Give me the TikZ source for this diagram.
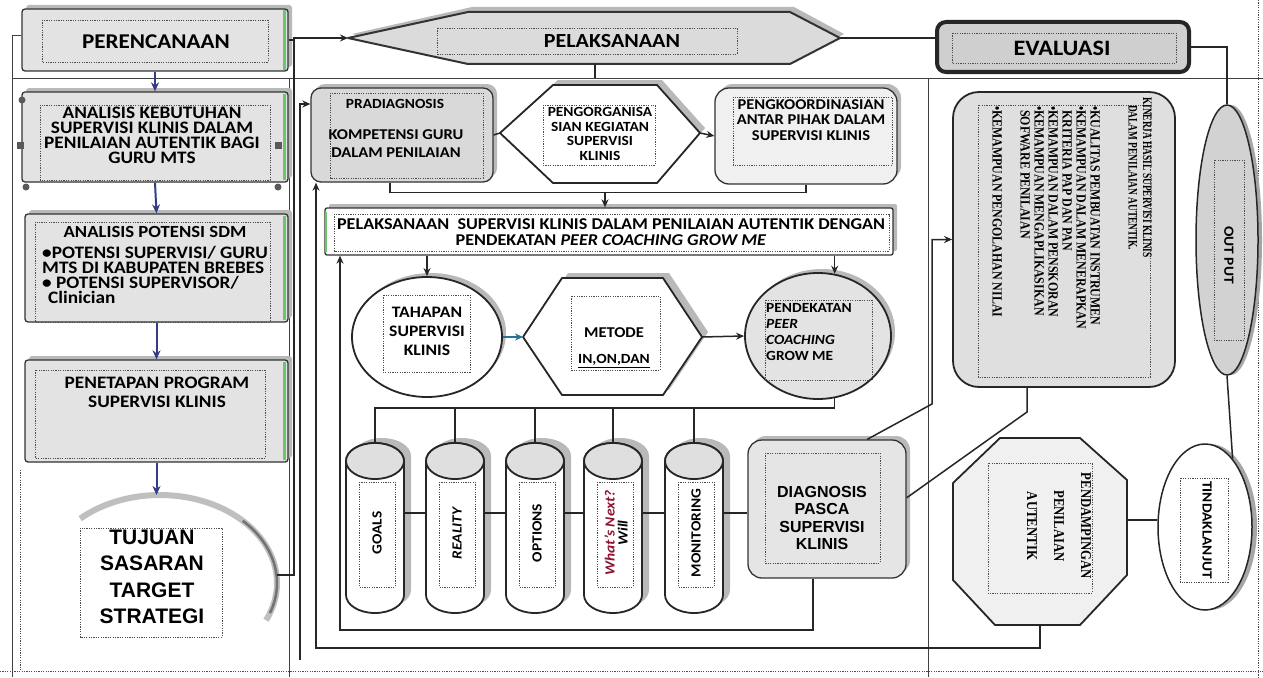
\documentclass[tikz,border=0pt]{standalone}
\usepackage{fontspec}
\setmainfont{Carlito}[FakeStretch=1.1]
\newfontfamily\arialf{Liberation Sans}
\newfontfamily\serc{Liberation Serif}[FakeStretch=0.85]
\newfontfamily\sercc{Liberation Serif}[FakeStretch=0.72]
\usetikzlibrary{shapes.geometric,shadows,arrows.meta,calc}
\definecolor{navy}{rgb}{0.2,0.24,0.52}
\definecolor{gbar}{rgb}{0.42,0.78,0.42}
\definecolor{wred}{rgb}{0.55,0.08,0.2}
\definecolor{tealb}{rgb}{0.15,0.45,0.6}
\newcommand\fsz[2]{\fontsize{#1}{#2}\selectfont}
\begin{document}
\begin{tikzpicture}[x=1pt,y=-1pt,
  box/.style={draw=black!80, line width=1.3pt, fill=gray!22, rounded corners=3pt, inner sep=0pt},
  sh/.style={drop shadow={shadow xshift=4pt, shadow yshift=4pt, fill=gray!55, opacity=1}},
  dotr/.style={draw=black!70, dash pattern=on 1.2pt off 1.2pt, line width=0.8pt},
  conn/.style={draw=black!85, line width=1.5pt},
  arr/.style={conn, -{Stealth[length=8pt,width=7pt]}},
  darr/.style={draw=navy, line width=2pt, -{Stealth[length=9pt,width=8pt]}},
  lbl/.style={align=center, inner sep=0pt},
  divl/.style={draw=black!75, line width=0.9pt},
  hexs/.style={draw=black!85, line width=1.8pt, fill=white, line join=round},
  cylanchor/.style={minimum width=58pt, minimum height=140pt, inner sep=0pt},
  cyltext/.style={rotate=90, align=center, inner sep=0pt, font=\bfseries\fsz{14}{13}},
  hand/.style={fill=black!65},
]
\useasboundingbox (0,0) rectangle (1263,677);
\fill[white] (0,0) rectangle (1263,677);

% dividers
\draw[divl] (12,35) -- (12,677);
\draw[divl] (12,78) -- (1263,78);
\draw[divl] (289,78) -- (289,677);
\draw[divl] (928,78) -- (928,677);
\draw[dotr] (1258,0) -- (1258,677);
\draw[dotr] (0,671) -- (1263,671);
\draw[dotr] (20,470) -- (20,671);

% ---------- left column ----------
\node[box, sh, minimum width=266pt, minimum height=62pt] (per) at (155,40) {};
\draw[dotr] (42,20) rectangle (268,62);
\node[lbl, font=\bfseries\fsz{21}{24}] (perT) at (156,42) {PERENCANAAN};
\draw[divl] (12,35) -- (per.west |- 0,35);

\node[box, sh, minimum width=266pt, minimum height=90pt] (ak) at (155,137) {};
\draw[dotr] (40,105) rectangle (270,180);
\node[lbl, font=\bfseries\fsz{17.5}{15}] (akT) at (152,135) {ANALISIS KEBUTUHAN\\SUPERVISI KLINIS DALAM\\PENILAIAN AUTENTIK BAGI\\GURU MTS};

\node[box, sh, minimum width=263pt, minimum height=108pt] (ap) at (156.5,268) {};
\draw[dotr] (35,222) rectangle (270,322);
\node[lbl, font=\bfseries\fsz{17}{15}] (apT) at (155,232) {ANALISIS POTENSI SDM};
\node[lbl, align=left, anchor=north west, font=\bfseries\fsz{17.5}{15}] (apB) at (42,246) {•POTENSI SUPERVISI/ GURU\\MTS DI KABUPATEN BREBES\\• POTENSI SUPERVISOR/\\\hspace*{6pt}Clinician};

\node[box, sh, minimum width=263pt, minimum height=102pt] (pp) at (156.5,411) {};
\draw[dotr] (35,370) rectangle (265,458);
\node[lbl, font=\bfseries\fsz{17.5}{19}] (ppT) at (157,392) {PENETAPAN PROGRAM\\SUPERVISI KLINIS};

% tujuan arc
\draw[gray!50, line width=6pt] (160,583) ++(-133:117 and 88) arc (-133:25:117 and 88);
\draw[black!55, line width=2.5pt] (160,583) ++(-45:117 and 88) arc (-45:20:117 and 88);
\draw[dotr] (80,528) rectangle (222,637);
\node[lbl, font=\arialf\bfseries\fsz{21}{26.5}] (tuj) at (152,577) {TUJUAN\\SASARAN\\TARGET\\STRATEGI};
\coordinate (tujE) at (277,575);
\coordinate (tujN) at (160,495);

% green bars and handles
\foreach \a/\b in {10/70, 94/180, 216/320, 362/460} \draw[gbar, line width=3pt] (284,\a) -- (284,\b);
\fill[hand] (22,100) circle (3.5pt);
\fill[hand] (26,187) circle (3.5pt);
\fill[hand] (278,187) circle (3.5pt);
\fill[hand] (17,142) rectangle (24,149);
\fill[hand] (275,142) rectangle (282,149);

% left arrows
\draw[darr] (per.south) -- (ak.north);
\draw[darr] (ak.south) -- (ap.north);
\draw[darr] (ap.south) -- (pp.north);
\draw[darr] (pp.south) -- (pp.south |- tujN);

% ---------- PELAKSANAAN ----------
\coordinate (pelW) at (348,38);
\coordinate (pelE) at (840,38);
\fill[gray!55] ($(pelW)+(4,-4)$) -- (472,7) -- (794,7) -- ($(pelE)+(4,-4)$) -- (794,60) -- (472,60) -- cycle;
\draw[line width=2pt, draw=black!80, fill=gray!28, line join=round] (pelW) -- (468,12) -- (790,12) -- (pelE) -- (790,64) -- (468,64) -- cycle;
\draw[dotr] (437,28) rectangle (737,54);
\node[lbl, font=\bfseries\fsz{20}{22}] (pel) at (612,41) {PELAKSANAAN};
\coordinate (pelS) at (595,64);
\draw[conn] (pelS) -- (595,78);
\draw[arr] (tujE) -| ($(pelW)+(-54,0)$) -- (pelW);
\draw[conn] (per.east) -- ($(pelW)+(-54,2)$);

% ---------- EVALUASI ----------
\node[draw=black!85, line width=4pt, fill=gray!38, rounded corners=9pt, minimum width=252pt, minimum height=50pt, inner sep=0pt] (eva) at (1063,47) {};
\draw[dotr] (952,33) rectangle (1176,63);
\node[lbl, font=\bfseries\fsz{22}{24}] (evaT) at (1062,48) {EVALUASI};
\draw[conn] (pelE) -- (pelE -| eva.west);

% ---------- middle row ----------
\node[box, sh, rounded corners=10pt, fill=gray!30, minimum width=182pt, minimum height=94pt] (pra) at (402,135) {};
\draw[dotr] (330,93) rectangle (483,178);
\node[lbl, font=\bfseries\fsz{14}{16}] (praT) at (395,104) {PRADIAGNOSIS};
\node[lbl, font=\bfseries\fsz{15}{18}] (praK) at (396,144) {KOMPETENSI GURU\\DALAM PENILAIAN};

\coordinate (orgW) at (500,133);
\coordinate (orgE) at (700,133);
\fill[gray!55] ($(orgW)+(5,-5)$) -- (558,80) -- (662,80) -- ($(orgE)+(5,-5)$) -- (662,178) -- (558,178) -- cycle;
\draw[hexs] (orgW) -- (553,85) -- (657,85) -- (orgE) -- (657,183) -- (553,183) -- cycle;
\draw[dotr] (543,105) rectangle (655,165);
\node[lbl, font=\bfseries\fsz{14}{14.5}] (org) at (600,134) {PENGORGANISA\\SIAN KEGIATAN\\SUPERVISI\\KLINIS};

\node[box, sh, rounded corners=14pt, fill=gray!12, minimum width=182pt, minimum height=96pt] (koo) at (806,136) {};
\draw[dotr] (733,97) rectangle (892,165);
\node[lbl, font=\bfseries\fsz{15}{15.5}] (kooT) at (811,120) {PENGKOORDINASIAN\\ANTAR PIHAK DALAM\\SUPERVISI KLINIS};

\draw[conn] (pra.east) -- (orgW);
\draw[arr] (orgE) -- (koo.west);
\draw[conn] ($(pra.south)+(-12,0)$) -- ++(0,10) -| (koo.south);

% ---------- PSK ----------
\node[box, sh, fill=white, rounded corners=2pt, minimum width=568pt, minimum height=47pt] (psk) at (609,231.5) {};
\draw[dotr] (334,214) rectangle (889,251);
\draw[gbar, line width=2.5pt] (326,212) -- (326,252);
\node[lbl, font=\bfseries\fsz{16.5}{16}] (pskT) at (611,232) {PELAKSANAAN\ \ SUPERVISI KLINIS DALAM PENILAIAN AUTENTIK DENGAN\\PENDEKATAN \textit{PEER COACHING GROW ME}};
\coordinate (mid) at (605,192);
\draw[arr] (mid) -- (mid |- psk.north);

% ---------- row 3 ----------
\node[draw=black!85, ellipse, line width=1.8pt, fill=white, minimum width=150pt, minimum height=120pt, sh] (tah) at (427,337) {};
\draw[dotr] (383,295) rectangle (470,372);
\node[lbl, font=\bfseries\fsz{16}{19}] (tahT) at (427,331) {TAHAPAN\\SUPERVISI\\KLINIS};

\coordinate (metW) at (523,337);
\coordinate (metE) at (702,337);
\fill[gray!55] ($(metW)+(6,-5)$) -- (568,273) -- (669,273) -- ($(metE)+(6,-5)$) -- (669,390) -- (568,390) -- cycle;
\draw[hexs] (metW) -- (562,278) -- (663,278) -- (metE) -- (663,395) -- (562,395) -- cycle;
\draw[dotr] (571,296) rectangle (660,370);
\node[lbl, font=\bfseries\fsz{15}{17}] (metT) at (614,333) {METODE};
\node[lbl, font=\bfseries\fsz{14}{16}] (metU) at (614,361) {\underline{IN,ON,DAN}};

\node[draw=black!85, ellipse, line width=1.8pt, fill=gray!22, minimum width=146pt, minimum height=126pt, sh] (pen) at (818,336) {};
\draw[dotr] (765,300) rectangle (872,380);
\node[lbl, align=left, anchor=north west, font=\bfseries\fsz{14}{16}] (penT) at (766,303) {PENDEKATAN\\\textit{PEER}\\\textit{COACHING}\\GROW ME};

\draw[arr] (psk.south -| tah.north) -- (tah.north);
\draw[arr] (psk.south -| pen.75) -- (pen.75);
\draw[arr, draw=tealb] (tah.east) -- (metW);
\draw[arr] (metE) -- (pen.west);

% ---------- cylinders ----------
\foreach \c in {375,455,535,613,694} {
  \fill[gray!55] (\c-22,456) -- (\c-22,590) arc (180:0:29 and 18) -- (\c+36,456) arc (0:-180:29 and 18) -- cycle;
  \draw[draw=black!85, line width=1.8pt, fill=white] (\c-29,461) -- (\c-29,595) arc (180:0:29 and 18) -- (\c+29,461) arc (0:-180:29 and 18) -- cycle;
  \draw[draw=black!85, line width=1.8pt, fill=gray!25] (\c,461) ellipse (29 and 18);
  \draw[dotr] (\c-16,482) rectangle (\c+20,587);
}
\node[cylanchor] (goals) at (375,513) {};
\node[cylanchor] (real) at (455,513) {};
\node[cylanchor] (opt) at (535,513) {};
\node[cylanchor] (wn) at (613,513) {};
\node[cylanchor] (mon) at (694,513) {};
\node[cyltext] (goalsT) at (377,533) {GOALS};
\node[cyltext] (realT) at (457,533) {\textit{REALITY}};
\node[cyltext] (optT) at (537,533) {OPTIONS};
\node[cyltext] (wnT) at (616,533) {\textcolor{wred}{\textit{What's Next?}}\\\textit{Will}};
\node[cyltext] (monT) at (696,533) {MONITORING};

\coordinate (busY) at (0,408);
\draw[conn] (pen.-75) |- (busY -| goals.north) -- (goals.north);
\foreach \n in {real,opt,wn,mon} \draw[conn] (busY -| \n.north) -- (\n.north);
\draw[conn] (goals.east) -- (real.west);
\draw[conn] (real.east) -- (opt.west);
\draw[conn] (opt.east) -- (wn.west);
\draw[conn] (wn.east) -- (mon.west);

% ---------- diagnosis ----------
\node[box, sh, rounded corners=14pt, fill=gray!20, minimum width=158pt, minimum height=138pt] (diag) at (827,509) {};
\draw[dotr] (765,453) rectangle (880,563);
\node[lbl, font=\arialf\bfseries\fsz{16}{17.5}] (diagT) at (822,518) {DIAGNOSIS\\PASCA\\SUPERVISI\\KLINIS};
\draw[conn] (mon.east) -- (mon.east -| diag.west);

% ---------- KINERJA ----------
\node[draw=black!85, line width=1.8pt, fill=gray!25, rounded corners=26pt, minimum width=222pt, minimum height=295pt, inner sep=0pt] (kin) at (1064,239.5) {};
\draw[dotr] (978,105) rectangle (1150,377);
\node[rotate=-90, anchor=north west, align=center, inner sep=0pt, font=\sercc\bfseries\fsz{13}{14.5}] (kinT) at (1152,97) {KINERJA HASIL SUPERVISI KLINIS\\DALAM PENILAIAN AUTENTIK.};
\node[rotate=-90, anchor=north west, align=left, inner sep=0pt, font=\serc\bfseries\fsz{14}{14}] (kinB) at (1100,106) {•KUALITAS PEMBUATAN INSTRUMEN\\•KEMAMPUAN DALAM MENERAPKAN\\\hspace*{4pt}KRITERIA PAP DAN PAN\\•KEMAMPUAN DALAM PENSKORAN\\•KEMAMPUAN MENGAPLIKASIKAN\\\hspace*{4pt}SOFWARE PENILAIAN\\[14pt]•KEMAMPUAN PENGOLAHAN NILAI};

\draw[arr] (diag.60) -- (932,404) |- (kin.west);
\draw[conn] (diag.8) -- (1027,412) -- ($(kin.south)+(-37,0)$);

% ---------- OUTPUT / TINDAK LANJUT ----------
\node[ellipse, draw=black!85, line width=1.5pt, fill=gray!35, minimum width=62pt, minimum height=270pt, drop shadow={shadow xshift=4pt, shadow yshift=0pt, fill=gray!70, opacity=1}] (out) at (1227,240) {};
\draw[dotr] (1214,160) rectangle (1244,340);
\node[rotate=-90, inner sep=0pt, font=\bfseries\fsz{14}{16}] (outT) at (1229,255) {OUT PUT};
\draw[conn] (eva.east) -| (out.north);

\node[ellipse, draw=black!85, line width=1.5pt, fill=white, minimum width=94pt, minimum height=166pt, drop shadow={shadow xshift=5pt, shadow yshift=0pt, fill=gray!70, opacity=1}] (tdk) at (1205,527) {};
\draw[dotr] (1180,478) rectangle (1228,582);
\node[rotate=-90, inner sep=0pt, font=\bfseries\fsz{14}{16}] (tdkT) at (1207,530) {TINDAKLANJUT};
\draw[conn] (out.south) -- (tdk.68);

% ---------- PENDAMPINGAN ----------
\coordinate (pdaE) at (1127,520);
\coordinate (pdaS) at (1040,625);
\draw[draw=black!85, line width=1.8pt, fill=gray!12, line join=round] (1000,438) -- (1080,438) -- (1127,480) -- (pdaE) -- (1127,575) -- (1080,625) -- (pdaS) -- (995,625) -- (953,580) -- (953,483) -- cycle;
\draw[dotr] (988,463) rectangle (1092,593);
\node[rotate=-90, align=center, inner sep=0pt, font=\serc\bfseries\fsz{15}{27}] (pdaT) at (1059,526) {PENDAMPINGAN\\PENILAIAN\\AUTENTIK};
\draw[conn] (pdaE) -- (pdaE -| tdk.west);

% ---------- feedback loops ----------
\coordinate (la) at (340,630);
\coordinate (lb) at (316,648);
\coordinate (lc) at (300,660);
\draw[arr] ($(diag.south)+(-14,0)$) |- (la) -- (la |- psk.south);
\draw[arr] (pdaS) |- (lb) -- (lb |- pra.south);
\draw[arr] (lc) -- (lc |- praT) -- (praT -| pra.west);
\end{tikzpicture}
\end{document}
